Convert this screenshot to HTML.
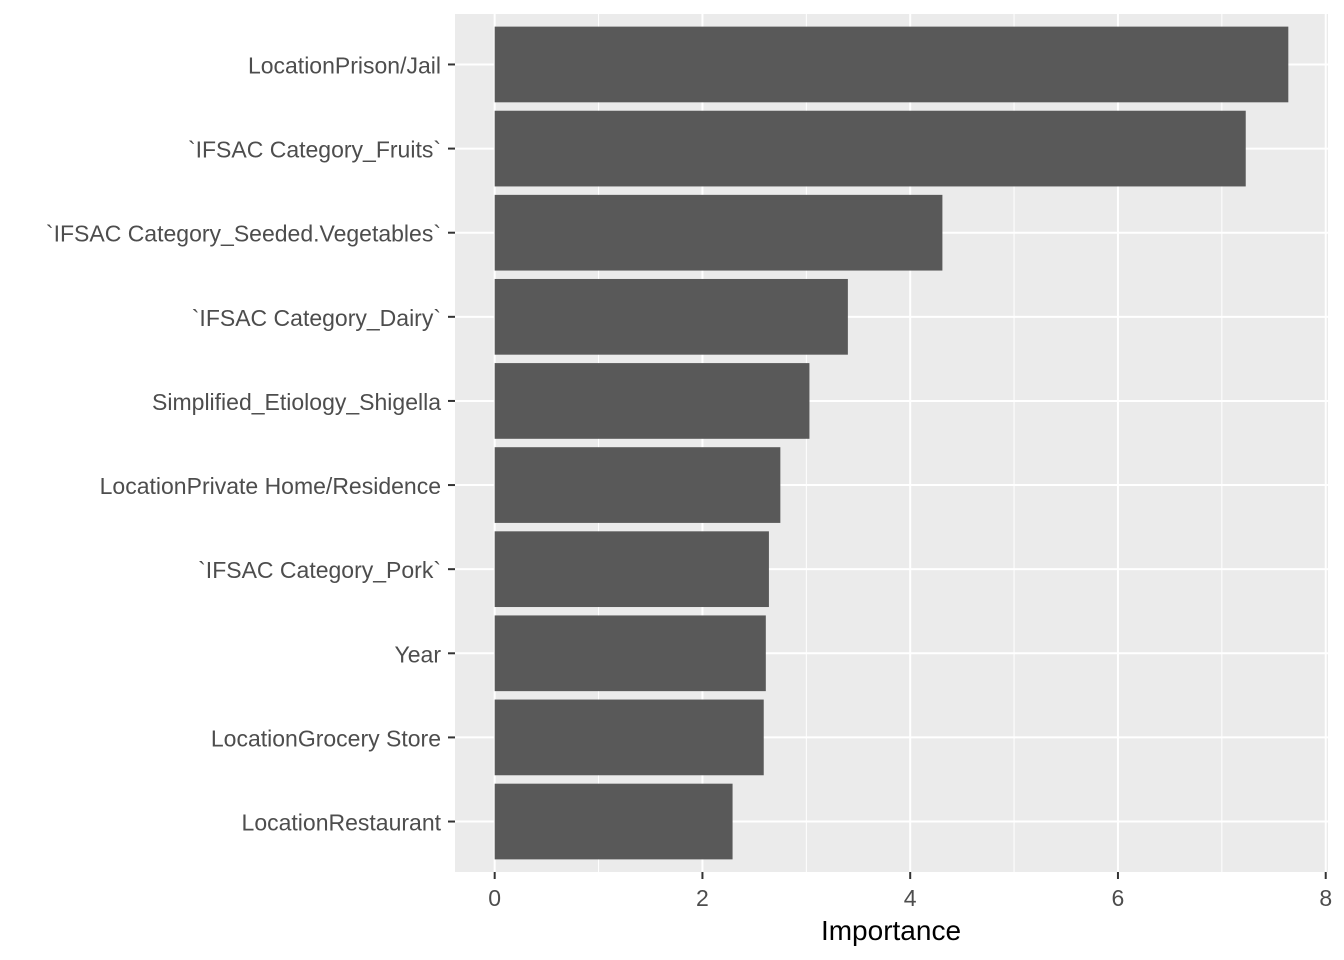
<!DOCTYPE html>
<html><head><meta charset="utf-8"><style>
body{margin:0;background:#fff}
svg{display:block;font-family:"Liberation Sans",Arial,sans-serif}
</style></head><body>
<svg id="chart" width="1344" height="960" xmlns="http://www.w3.org/2000/svg">
<rect x="455" y="14" width="873" height="858" fill="#ebebeb"/>
<g id="grid"></g><g id="bars"></g><g id="axes"></g>
<text x="891" y="940" text-anchor="middle" font-size="28" fill="#000">Importance</text>
</svg>
<script>
const categories=["LocationPrison/Jail","`IFSAC Category_Fruits`","`IFSAC Category_Seeded.Vegetables`","`IFSAC Category_Dairy`","Simplified_Etiology_Shigella","LocationPrivate Home/Residence","`IFSAC Category_Pork`","Year","LocationGrocery Store","LocationRestaurant"];
const values=[7.64,7.23,4.31,3.40,3.03,2.75,2.64,2.61,2.59,2.29];
const xTicks=[0,2,4,6,8];
const NS="http://www.w3.org/2000/svg";
const px0=455,px1=1328,py0=14,py1=872;
const maxV=Math.max(...values);
const xmin=-0.05*maxV,xmax=Math.max(maxV*1.05,8.02);
const x=v=>px0+(v-xmin)/(xmax-xmin)*(px1-px0);
const n=categories.length;
const step=(py1-py0)/(n+0.2);
const y=i=>py0+step*(0.6+i);
function mk(t,a,p){const e=document.createElementNS(NS,t);for(const k in a)e.setAttribute(k,a[k]);p.appendChild(e);return e;}
const grid=document.getElementById('grid'),bars=document.getElementById('bars'),axes=document.getElementById('axes');
for(let i=0;i<xTicks.length;i++){
  const v=xTicks[i];
  if(i<xTicks.length-1){const m=(v+xTicks[i+1])/2;
    const gm=mk('line',{x1:x(m),x2:x(m),y1:py0,y2:py1,stroke:'#fff','stroke-width':1},grid);
    
    }
  const g=mk('line',{x1:x(v),x2:x(v),y1:py0,y2:py1,stroke:'#fff','stroke-width':2},grid);
  
  
  const tk=mk('line',{x1:x(v),x2:x(v),y1:py1,y2:py1+7,stroke:'#333','stroke-width':2},axes);
  
  
  const tl=mk('text',{x:x(v),y:906,'text-anchor':'middle','font-size':23,fill:'#4d4d4d'},axes);
  tl.textContent=v;
  
  
}
categories.forEach((c,i)=>{
  const cy=y(i);
  const hg=mk('line',{x1:px0,x2:px1,y1:cy,y2:cy,stroke:'#fff','stroke-width':2},grid);
  
  
  const b=mk('rect',{x:x(0),y:cy-step*0.45,width:x(values[i])-x(0),height:step*0.9,fill:'#595959'},bars);
  
  
  const tk=mk('line',{x1:px0-7,x2:px0,y1:cy,y2:cy,stroke:'#333','stroke-width':2},axes);
  
  
  const t=mk('text',{x:px0-14,y:cy+9,'text-anchor':'end','font-size':23,fill:'#4d4d4d'},axes);
  t.textContent=c;
  
  
});
</script>
</body></html>
